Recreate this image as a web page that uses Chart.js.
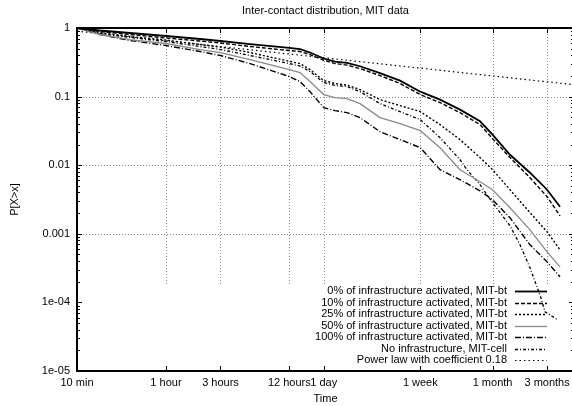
<!DOCTYPE html>
<html lang="en">
<head>
<meta charset="UTF-8">
<title>Inter-contact distribution, MIT data</title>
<script src="https://cdn.jsdelivr.net/npm/chart.js"></script>
<style>
  html, body { margin: 0; padding: 0; background: #fff; overflow: hidden; }
  #wrap { width: 576px; height: 406px; }
</style>
</head>
<body>
<div id="wrap"><canvas id="ccdf" width="576" height="406"></canvas></div>
<script>
// inter-contact time (seconds) where the MIT-bt curves were read
const timeSec = [600, 950, 1750, 3600, 7150, 10800, 19600, 43200, 53600, 65600, 86400, 108500,
                 138000, 179500, 268600, 402000, 604800, 900000, 1346000, 2014000, 2592000,
                 3683000, 5511000, 7776000, 10090000];

const infra0 = [1, 0.919, 0.845, 0.764, 0.691, 0.646, 0.584, 0.514, 0.494, 0.439, 0.359, 0.324,
                0.310, 0.277, 0.220, 0.171, 0.118, 0.0904, 0.0646, 0.0436, 0.0279,
                0.0142, 0.00777, 0.00439, 0.00248];
const infra10 = [1, 0.889, 0.804, 0.715, 0.646, 0.604, 0.537, 0.469, 0.454, 0.410, 0.339, 0.303,
                 0.288, 0.256, 0.2025, 0.155, 0.107, 0.0818, 0.0584, 0.0390, 0.0244,
                 0.0129, 0.00657, 0.00347, 0.00183];
const infra25 = [1, 0.860, 0.751, 0.668, 0.574, 0.528, 0.439, 0.327, 0.303, 0.248, 0.171, 0.155,
                 0.147, 0.1265, 0.0904, 0.0739, 0.0604, 0.0390, 0.0236, 0.0129, 0.0086,
                 0.00439, 0.00203, 0.00107, 0.000584];
const infra50 = [1, 0.804, 0.679, 0.594, 0.485, 0.439, 0.347, 0.248, 0.224, 0.1656, 0.107, 0.0967,
                 0.0935, 0.0790, 0.0494, 0.0403, 0.0319, 0.0180, 0.0086, 0.00574, 0.00439,
                 0.00240, 0.00114, 0.000546, 0.00033];
const infra100 = [1, 0.804, 0.657, 0.555, 0.454, 0.397, 0.303, 0.196, 0.1656, 0.118, 0.0691, 0.0625,
                  0.0584, 0.0494, 0.0308, 0.0236, 0.0180, 0.0086, 0.00614, 0.00424, 0.00314,
                  0.00171, 0.00069, 0.00039, 0.000236];

// MIT-cell curve has its own sample times (steep tail)
const cellTimeSec = [600, 950, 1750, 3600, 7150, 10800, 19600, 43200, 53600, 65600, 86400, 108500,
                     138000, 179500, 268600, 402000, 604800, 900000, 1346000, 1549000, 2014000,
                     2592000, 3683000, 4507000, 5511000, 6350000, 6881000, 7458000, 9690000];
const cellMit = [1, 0.831, 0.727, 0.635, 0.537, 0.485, 0.397, 0.303, 0.279, 0.232, 0.160, 0.145,
                 0.140, 0.118, 0.0790, 0.0604, 0.0461, 0.0252, 0.0120, 0.0086, 0.00519,
                 0.00284, 0.00131, 0.00069, 0.000319, 0.000168, 0.000116, 0.0000727, 0.0000555];

// reference power law, end points
const powerLawTime = [600, 13370000];
const powerLawP = [0.9, 0.149];

const seriesLabels = [
  '0% of infrastructure activated, MIT-bt',
  '10% of infrastructure activated, MIT-bt',
  '25% of infrastructure activated, MIT-bt',
  '50% of infrastructure activated, MIT-bt',
  '100% of infrastructure activated, MIT-bt',
  'No infrastructure, MIT-cell',
  'Power law with coefficient 0.18'
];

const xTickValues = [600, 3600, 10800, 43200, 86400, 604800, 2592000, 7776000];
const xTickLabels = ['10 min', '1 hour', '3 hours', '12 hours', '1 day', '1 week', '1 month', '3 months'];
const yTickValues = [1, 0.1, 0.01, 0.001, 1e-4, 1e-5];
const yTickLabels = ['1', '0.1', '0.01', '0.001', '1e-04', '1e-05'];
const yGridValues = [1, 0.1, 0.01, 0.001];

// minor ticks 2..9 in every decade
const yMinorValues = [];
for (let e = -5; e < 0; e++) {
  for (let m = 2; m <= 9; m++) yMinorValues.push(m * Math.pow(10, e));
}

const seriesStyles = [
  { color: '#000', width: 1.8, dash: [] },
  { color: '#000', width: 1.4, dash: [4, 2] },
  { color: '#000', width: 1.4, dash: [2, 2] },
  { color: '#8a8a8a', width: 1.3, dash: [] },
  { color: '#000', width: 1.4, dash: [6, 2, 1, 2] },
  { color: '#000', width: 1.3, dash: [3, 2, 1, 2] },
  { color: '#000', width: 1.2, dash: [1.5, 3] }
];

const font = { family: '"Liberation Sans", Arial, sans-serif', size: 11 };
const gridStopY = 286;   // vertical grid lines stop above the key

function pairs(xs, ys) {
  return xs.map((x, i) => ({ x: x, y: ys[i] }));
}

const seriesData = [
  pairs(timeSec, infra0),
  pairs(timeSec, infra10),
  pairs(timeSec, infra25),
  pairs(timeSec, infra50),
  pairs(timeSec, infra100),
  pairs(cellTimeSec, cellMit),
  pairs(powerLawTime, powerLawP)
];

const datasets = seriesData.map((d, i) => ({
  label: seriesLabels[i],
  data: d,
  xAxisID: 'x',
  yAxisID: 'y',
  borderColor: seriesStyles[i].color,
  borderWidth: seriesStyles[i].width,
  borderDash: seriesStyles[i].dash,
  pointRadius: 0,
  tension: 0,
  fill: false
}));

// gnuplot look: dotted grid, frame with inward ticks, key at lower right
const gnuplotLook = {
  id: 'gnuplotLook',
  beforeDatasetsDraw(chart) {
    const { ctx, chartArea: a, scales: { x, y } } = chart;
    ctx.save();
    ctx.strokeStyle = '#888';
    ctx.lineWidth = 1;
    ctx.setLineDash([1, 2]);
    ctx.beginPath();
    yGridValues.forEach(v => {
      const py = Math.round(y.getPixelForValue(v)) + 0.5;
      ctx.moveTo(a.left, py);
      ctx.lineTo(a.right, py);
    });
    xTickValues.slice(1).forEach(v => {
      const px = Math.round(x.getPixelForValue(v)) + 0.5;
      ctx.moveTo(px, a.top);
      ctx.lineTo(px, gridStopY);
    });
    ctx.stroke();
    ctx.restore();
  },
  afterDatasetsDraw(chart) {
    const { ctx, chartArea: a, scales: { x, y } } = chart;
    ctx.save();
    ctx.setLineDash([]);
    ctx.strokeStyle = '#000';

    // ticks
    ctx.lineWidth = 1;
    ctx.beginPath();
    xTickValues.forEach(v => {
      const px = Math.round(x.getPixelForValue(v)) + 0.5;
      ctx.moveTo(px, a.bottom); ctx.lineTo(px, a.bottom - 5);
      ctx.moveTo(px, a.top); ctx.lineTo(px, a.top + 5);
    });
    yTickValues.forEach(v => {
      const py = Math.round(y.getPixelForValue(v)) + 0.5;
      ctx.moveTo(a.left, py); ctx.lineTo(a.left + 5, py);
      ctx.moveTo(a.right, py); ctx.lineTo(a.right - 5, py);
    });
    yMinorValues.forEach(v => {
      const py = Math.round(y.getPixelForValue(v)) + 0.5;
      ctx.moveTo(a.left, py); ctx.lineTo(a.left + 3, py);
      ctx.moveTo(a.right, py); ctx.lineTo(a.right - 3, py);
    });
    ctx.stroke();

    // frame
    ctx.lineWidth = 2;
    ctx.strokeRect(a.left, a.top, a.right - a.left, a.bottom - a.top);

    // key
    const keyTextRight = 507, keySample0 = 515, keySample1 = 547, keyTop = 291, keyStep = 11.5;
    ctx.font = '11px ' + font.family;
    ctx.textAlign = 'right';
    ctx.textBaseline = 'middle';
    ctx.fillStyle = '#000';
    chart.data.datasets.forEach((ds, i) => {
      const ly = keyTop + i * keyStep;
      ctx.fillText(ds.label, keyTextRight, ly);
      ctx.strokeStyle = ds.borderColor;
      ctx.lineWidth = ds.borderWidth;
      ctx.setLineDash(ds.borderDash || []);
      ctx.beginPath();
      ctx.moveTo(keySample0, Math.round(ly) + 0.5);
      ctx.lineTo(keySample1, Math.round(ly) + 0.5);
      ctx.stroke();
    });
    ctx.restore();
  }
};

new Chart(document.getElementById('ccdf'), {
  type: 'line',
  data: { datasets: datasets },
  options: {
    responsive: false,
    animation: false,
    devicePixelRatio: 1,
    layout: { padding: { left: 0, right: 2, top: 0, bottom: 0 } },
    plugins: {
      legend: { display: false },
      tooltip: { enabled: false },
      title: { display: false }
    },
    scales: {
      x: {
        type: 'logarithmic',
        position: 'bottom',
        min: 600,
        max: 13370000,
        afterBuildTicks: s => { s.ticks = xTickValues.map(v => ({ value: v })); },
        afterFit: s => { s.height = 35; },
        grid: { display: false, drawTicks: false },
        border: { display: false },
        ticks: {
          autoSkip: false,
          maxRotation: 0,
          minRotation: 0,
          padding: 5,
          color: '#000',
          font: font,
          callback: v => {
            const i = xTickValues.indexOf(v);
            return i >= 0 ? xTickLabels[i] : '';
          }
        },
        title: { display: true, text: 'Time', color: '#000', font: font, padding: { top: 0, bottom: 0 } }
      },
      xTop: {
        type: 'linear',
        position: 'top',
        afterFit: s => { s.height = 28; },
        grid: { display: false, drawTicks: false },
        border: { display: false },
        ticks: { display: false },
        title: {
          display: true,
          text: 'Inter-contact distribution, MIT data',
          color: '#000',
          font: font,
          padding: { top: 4, bottom: 0 }
        }
      },
      y: {
        type: 'logarithmic',
        min: 1e-5,
        max: 1,
        afterBuildTicks: s => { s.ticks = yTickValues.map(v => ({ value: v })); },
        afterFit: s => { s.width = 77; },
        grid: { display: false, drawTicks: false },
        border: { display: false },
        ticks: {
          autoSkip: false,
          padding: 7,
          color: '#000',
          font: font,
          callback: v => {
            const i = yTickValues.indexOf(v);
            return i >= 0 ? yTickLabels[i] : '';
          }
        },
        title: { display: true, text: 'P[X>x]', color: '#000', font: font, padding: { top: 8, bottom: 0 } }
      }
    }
  },
  plugins: [gnuplotLook]
});
</script>
</body>
</html>
